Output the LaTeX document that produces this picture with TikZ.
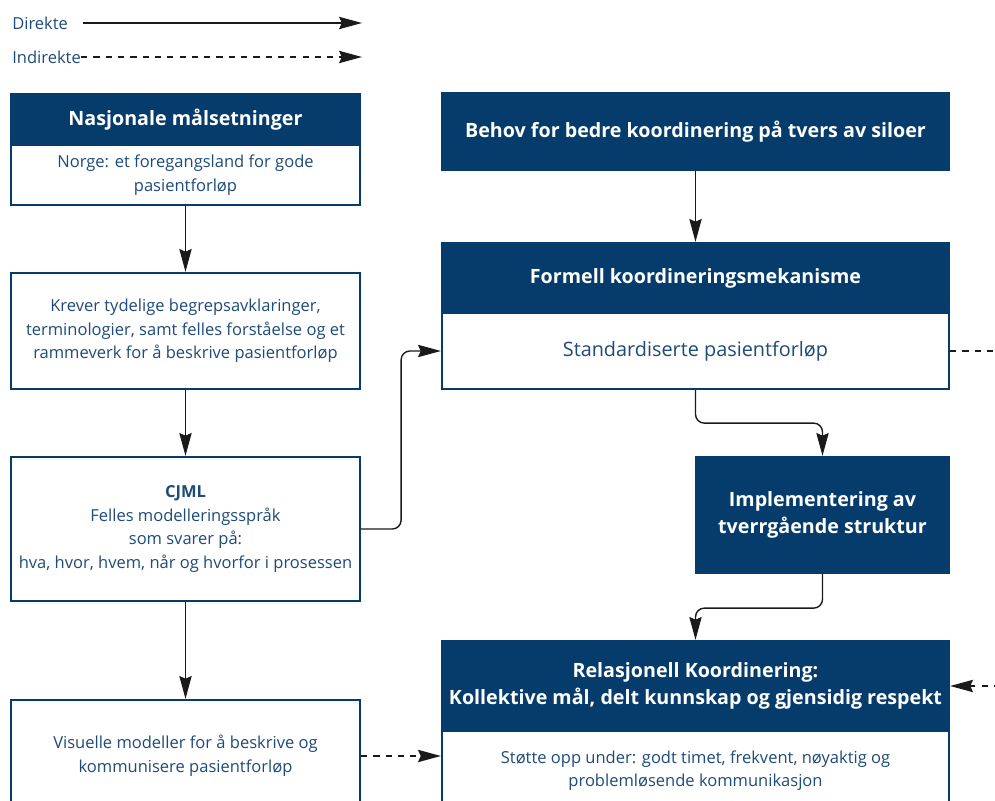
\documentclass[tikz,border=0pt]{standalone}
\usepackage{fontspec}
\setsansfont{Open Sans}
\usetikzlibrary{arrows.meta, positioning, calc}
\definecolor{c1}{HTML}{1A1A1A}
\definecolor{navy}{HTML}{063C6C}
\definecolor{ink}{HTML}{1F4B78}

\begin{document}
\begin{tikzpicture}[
    x=0.02cm, y=-0.02cm,
    every node/.style={font=\sffamily},
    direct/.style={-{Stealth[length=13pt, width=7pt, inset=1.5pt]}, line width=0.8pt, color=c1, rounded corners=5pt},
    indirect/.style={direct, dash pattern=on 3.5pt off 3.5pt},
    head/.style={
        rectangle, draw=navy, fill=navy, text=white, line width=1.3pt,
        align=center, font=\sffamily\bfseries\fontsize{11.2}{15.3}\selectfont,
    },
    body/.style={
        rectangle, draw=navy, fill=white, text=ink, line width=1.3pt,
        align=center, font=\sffamily\fontsize{9.4}{13.4}\selectfont,
    },
    lab/.style={text=ink, inner sep=0pt, font=\sffamily\fontsize{9.4}{10}\selectfont},
]
\useasboundingbox (0,0) rectangle (995,801);
\clip (0,0) rectangle (995,801);

% ================================================================ legend
\node[lab, anchor=west] (ldir) at (12,23) {Direkte};
\node[lab, anchor=west] (lind) at (12,57) {Indirekte};
\coordinate (ldirend) at (362,23);
\coordinate (lindend) at (362,57);
\draw[direct] ([xshift=8.5pt]ldir.east) -- (ldirend);
\draw[indirect] (lind.east) -- (lindend);

% ================================================================ left column
\node[body, minimum width=6.98cm, minimum height=1.20cm] (mbody) at (185.5,175)
    {Norge: et foregangsland for gode\\pasientforløp};
\node[head, minimum width=6.98cm, minimum height=1.02cm] (mhead) at (185.5,119.5)
    {Nasjonale målsetninger};

\node[body, minimum width=6.98cm, minimum height=2.32cm] (krav) at (185.5,331)
    {Krever tydelige begrepsavklaringer,\\terminologier, samt felles forståelse og et\\rammeverk for å beskrive pasientforløp};

\node[body, minimum width=6.98cm, minimum height=2.88cm] (cjml) at (185.5,529)
    {\textbf{CJML}\\Felles modelleringsspråk\\som svarer på:\\hva, hvor, hvem, når og hvorfor i prosessen};

\node[body, minimum width=6.98cm, minimum height=2.24cm] (visu) at (185.5,756)
    {Visuelle modeller for å beskrive og\\kommunisere pasientforløp};

% ================================================================ right column
\node[head, minimum width=10.14cm, minimum height=1.54cm] (behov) at (695.5,131.5)
    {Behov for bedre koordinering på tvers av siloer};

\node[body, minimum width=10.14cm, minimum height=1.52cm,
      font=\sffamily\fontsize{11.3}{13}\selectfont] (fbody) at (695.5,351)
    {Standardiserte pasientforløp};
\node[head, minimum width=10.14cm, minimum height=1.40cm] (fhead) at (695.5,278)
    {Formell koordineringsmekanisme};

\node[head, minimum width=5.06cm, minimum height=2.32cm] (impl) at (822.5,515)
    {Implementering av\\tverrgående struktur};

\node[body, minimum width=10.14cm, minimum height=1.58cm] (rbody) at (695.5,770.5)
    {Støtte opp under: godt timet, frekvent, nøyaktig og\\problemløsende kommunikasjon};
\node[head, minimum width=10.14cm, minimum height=1.80cm] (rhead) at (695.5,686)
    {Relasjonell Koordinering:\\Kollektive mål, delt kunnskap og gjensidig respekt};

% ================================================================ connectors
\draw[direct] (mbody.south) -- (krav.north);
\draw[direct] (krav.south) -- (cjml.north);
\draw[direct] (cjml.south) -- (visu.north);
\draw[direct] (cjml.east) -- ++(40,0) |- (fbody.west);
\draw[direct] (behov.south) -- (fhead.north);
\draw[direct] (fbody.south) -- ++(0,33) -| (impl.north);
\draw[direct] (impl.south) -- ++(0,34) -| (rhead.north);
\draw[indirect] (visu.east) -- (visu.east -| rbody.west);

\coordinate (fout) at (1040,351);
\coordinate (rin) at (1000,686);
\draw[indirect] (fbody.east) -- (fout);
\draw[indirect] (rin) -- (rhead.east);

\end{tikzpicture}
\end{document}
